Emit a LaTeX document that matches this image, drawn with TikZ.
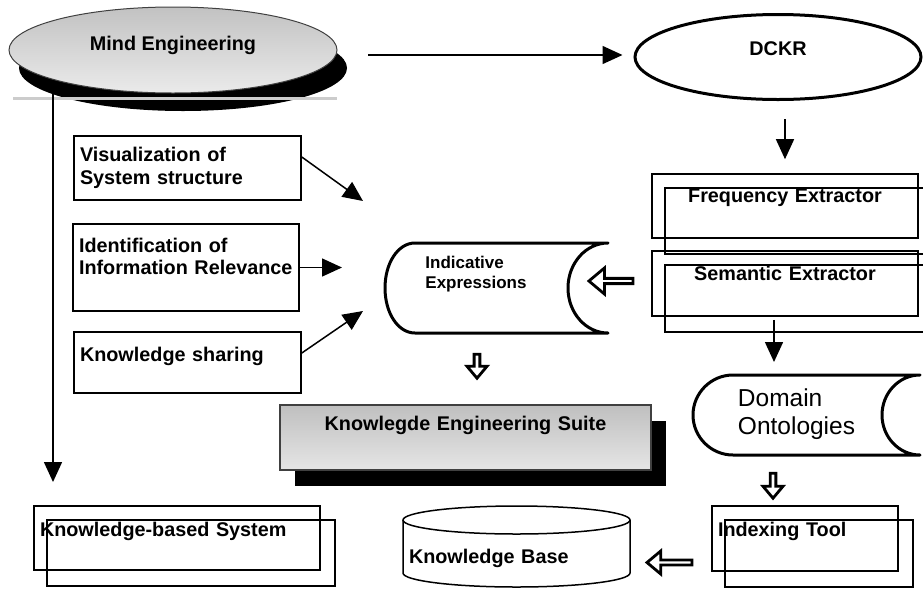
\documentclass[tikz,border=0pt]{standalone}
\usepackage{fontspec}
\setmainfont{Liberation Sans}
\usetikzlibrary{shapes.geometric, shapes.arrows, arrows.meta, shadows, positioning}

\tikzset{
  lbl/.style={font=\fontsize{19.8}{22.5}\selectfont\bfseries},
  arr/.style={-{Triangle[length=20pt,width=18pt]}, line width=1.5pt},
  box/.style={draw, line width=1.6pt, lbl, inner xsep=6pt, inner ysep=0pt},
  blockarr/.style={single arrow, draw, line width=2.8pt, line join=miter, inner sep=0pt, single arrow tip angle=80},
  thickline/.style={line width=3pt, line join=round}
}

\begin{document}
\begin{tikzpicture}[x=1pt, y=-1pt]
  \path[use as bounding box, fill=white] (0,0) rectangle (923,590);
  \clip (0,0) rectangle (923,590);

  \node[ellipse, draw=black!75, line width=1pt, top color=black!24, bottom color=black!8,
        general shadow={fill=black, shadow xshift=10pt, shadow yshift=-18pt},
        minimum width=328, minimum height=86, lbl, text height=15pt, text depth=15pt] (me) at (173,50) {Mind Engineering};
  \draw[black!20, line width=3pt] (13,98) -- (337,98);
  \node[ellipse, draw, line width=3pt, minimum width=286, minimum height=85, lbl, text height=15pt, text depth=19pt] (dckr) at (778,57) {DCKR};

  \node[box, minimum width=227, minimum height=64, text width=215, align=left] (vis) at (187.5,168) {Visualization of\\System structure};
  \node[box, minimum width=226, minimum height=87, text width=214, align=left] (ident) at (186,267.5) {Identification of\\Information Relevance\\\mbox{}};
  \node[box, minimum width=227, minimum height=61, text width=215, align=left, text height=15pt, text depth=18pt] (ks) at (187.5,362.5) {Knowledge sharing};

  \node[box, minimum width=266, minimum height=64, text width=254, align=center, text height=15pt, text depth=23pt] (freq) at (785,206) {Frequency Extractor};
  \node[box, minimum width=266, minimum height=65, text width=254, align=center, text height=15pt, text depth=22pt] (sem) at (785,283.5) {Semantic Extractor};

  \node[font=\fontsize{17}{20}\selectfont\bfseries, align=left] (ie) at (476,274) {Indicative\\Expressions};
  \draw[thickline] (415,243) -- (608,243) .. controls (586,243) and (568,263) .. (568,288)
    .. controls (568,313) and (586,333) .. (608,333) -- (415,333)
    .. controls (398,333) and (385,313) .. (385,288) .. controls (385,263) and (398,243) .. cycle;

  \node[font=\fontsize{24.5}{28}\selectfont, align=left] (dom) at (796.5,414) {Domain\\Ontologies};
  \draw[thickline] (733,375) -- (920,375) .. controls (899,375) and (882,393) .. (882,415)
    .. controls (882,437) and (899,455) .. (920,455) -- (733,455)
    .. controls (711,455) and (693,437) .. (693,415) .. controls (693,393) and (711,375) .. cycle;

  \node[box, line width=1.2pt, draw=black!75, top color=black!25, bottom color=black!10,
        general shadow={fill=black, shadow xshift=15pt, shadow yshift=-16pt},
        minimum width=371, minimum height=65, text width=359, align=center, text height=15pt, text depth=30pt] (kes) at (465.5,437.5) {Knowlegde Engineering Suite};

  \node[box, minimum width=286, minimum height=64, text width=274, align=left, text height=15pt, text depth=19pt] (kbs) at (177,538) {Knowledge-based System};
  \node[box, minimum width=186, minimum height=65, text width=174, align=left, text height=15pt, text depth=20pt] (idx) at (805,538.5) {Indexing Tool};
  \foreach \n in {freq, sem, kbs, idx}
    \draw[line width=1.6pt] ([shift={(14,15)}]\n.north west) rectangle ([shift={(14,15)}]\n.south east);

  \node[lbl, inner xsep=6pt, minimum width=227, minimum height=81, text width=215, align=left, text height=37pt, text depth=4pt] (kb) at (516.5,546.5) {Knowledge Base};
  \draw[line width=1.5pt] (516.5,520) ellipse [x radius=113.5, y radius=14];
  \draw[line width=1.5pt] (403,520) -- (403,573) .. controls (403,580.7) and (453.8,587) .. (516.5,587)
    .. controls (579.2,587) and (630,580.7) .. (630,573) -- (630,520);

  \coordinate (kbsin) at (53,482);
  \draw[arr] (kbsin |- me.south west) -- (kbsin);
  \coordinate (meout) at (368,55);
  \draw[arr, shorten >=11pt] (meout) -- (dckr.west |- meout);
  \draw[arr, shorten <=18pt, shorten >=14pt] (dckr.south -| freq.north) -- (freq.north);
  \coordinate (domtop) at (774,375);
  \draw[arr, shorten <=3pt, shorten >=13pt] (sem.south -| domtop) -- (domtop);

  \coordinate (visto) at (363,201);
  \coordinate (identto) at (342,267.5);
  \coordinate (ksto) at (363,311);
  \draw[arr] ([yshift=11pt]vis.east) -- (visto);
  \draw[arr] (ident.east) -- (identto);
  \draw[arr] ([yshift=9.5pt]ks.east) -- (ksto);

  \node[blockarr, minimum height=44, minimum width=26, single arrow head extend=5.5, rotate=180] (ha1) at (612.5,281) {};
  \node[blockarr, minimum height=24, minimum width=20, single arrow head extend=3.5, rotate=-90] (ha2) at (477,364.5) {};
  \node[blockarr, minimum height=25, minimum width=20, single arrow head extend=3.5, rotate=-90] (ha3) at (773,484) {};
  \node[blockarr, minimum height=45, minimum width=23, single arrow head extend=5, rotate=180] (ha4) at (671,562.5) {};
\end{tikzpicture}
\end{document}
